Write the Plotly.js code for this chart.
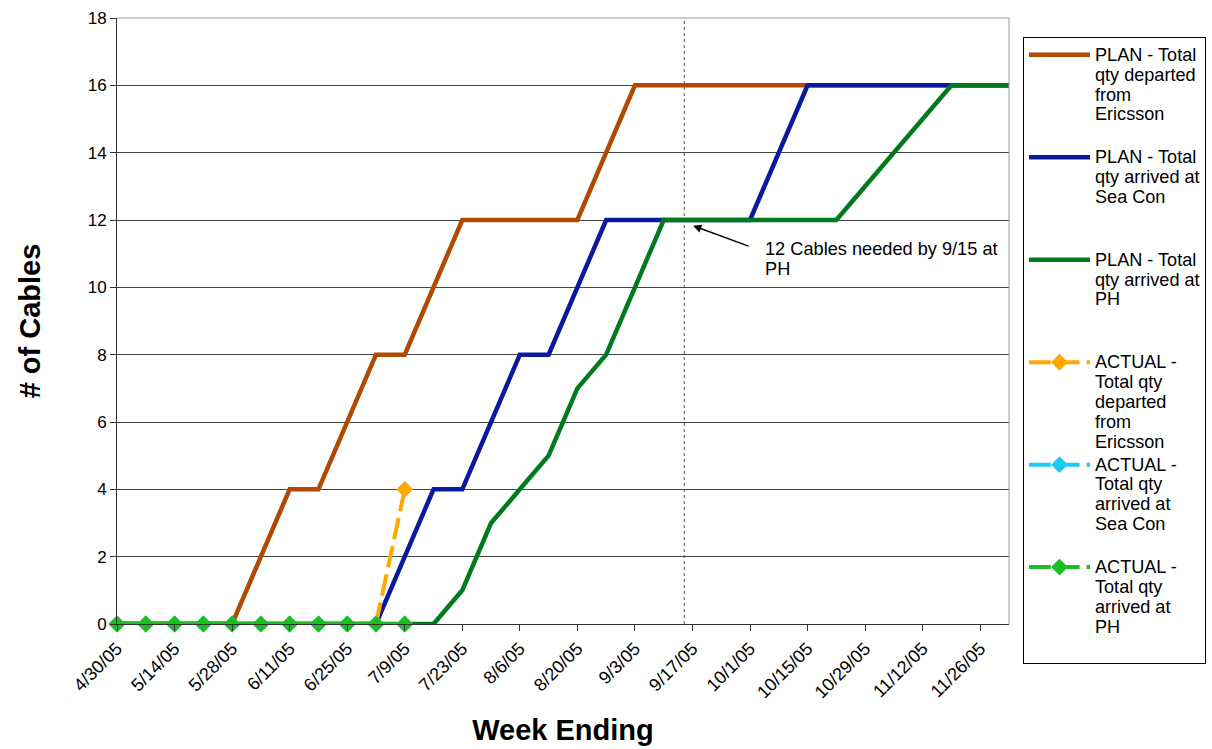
<!DOCTYPE html>
<html>
<head>
<meta charset="utf-8">
<script src="https://cdn.plot.ly/plotly-3.0.1.min.js"></script>
<style>
  html, body { margin: 0; padding: 0; background: #fff; }
  #chart { width: 1212px; height: 749px; }
</style>
</head>
<body>
<div id="chart"></div>
<script>
// ---- Data ----
const weeks = ["4/30/05","5/7/05","5/14/05","5/21/05","5/28/05","6/4/05","6/11/05","6/18/05",
               "6/25/05","7/2/05","7/9/05","7/16/05","7/23/05","7/30/05","8/6/05","8/13/05",
               "8/20/05","8/27/05","9/3/05","9/10/05","9/17/05","9/24/05","10/1/05","10/8/05",
               "10/15/05","10/22/05","10/29/05","11/5/05","11/12/05","11/19/05","11/26/05","12/3/05"];

const tickLabels = ["4/30/05","5/14/05","5/28/05","6/11/05","6/25/05","7/9/05","7/23/05","8/6/05",
                    "8/20/05","9/3/05","9/17/05","10/1/05","10/15/05","10/29/05","11/12/05","11/26/05"];

const planDeparted = [0,0,0,0,0,2,4,4,6,8,8,10,12,12,12,12,12,14,16,16,16,16,16,16,16,16,16,16,16,16,16,16];
const planSeaCon   = [0,0,0,0,0,0,0,0,0,0,2,4,4,6,8,8,10,12,12,12,12,12,12,14,16,16,16,16,16,16,16,16];
const planPH       = [0,0,0,0,0,0,0,0,0,0,0,0,1,3,4,5,7,8,10,12,12,12,12,12,12,12,13,14,15,16,16,16];

const actualDeparted = [0,0,0,0,0,0,0,0,0,0,4];
const actualSeaCon   = [0,0,0,0,0,0,0,0,0,0,0];
const actualPH       = [0,0,0,0,0,0,0,0,0,0,0];

const seriesNames = [
  ["PLAN - Total","qty departed","from","Ericsson"],
  ["PLAN - Total","qty arrived at","Sea Con"],
  ["PLAN - Total","qty arrived at","PH"],
  ["ACTUAL -","Total qty","departed","from","Ericsson"],
  ["ACTUAL -","Total qty","arrived at","Sea Con"],
  ["ACTUAL -","Total qty","arrived at","PH"]
];

const noteLines = ["12 Cables needed by 9/15 at", "PH"];
const neededDateIndex = 19 + 5/7;   // 9/15/05 between 9/10 and 9/17

// ---- Helpers ----
const FONT = "Liberation Sans, Arial, sans-serif";
const GLYPH = 18.1;
function legendName(lines, nLines) {
  const padded = lines.slice();
  while (padded.length < nLines) padded.push(" ");
  return padded.map(l => `<span style="font-size:${GLYPH}px">${l}</span>`).join("<br>");
}

const colors = {
  planDep: "#B04A00",
  planSea: "#0A1A9E",
  planPH:  "#007A1C",
  actDep:  "#FFA800",
  actSea:  "#1ACBF2",
  actPH:   "#1CBF22"
};

const actDash = "21.8px,7px";

const traces = [
  { x: weeks, y: planDeparted, name: legendName(seriesNames[0], 5), mode: "lines",
    line: { color: colors.planDep, width: 4.5 } },
  { x: weeks, y: planSeaCon, name: legendName(seriesNames[1], 5), mode: "lines",
    line: { color: colors.planSea, width: 4.5 } },
  { x: weeks, y: planPH, name: legendName(seriesNames[2], 5), mode: "lines",
    line: { color: colors.planPH, width: 4.5 } },
  { x: weeks.slice(0, actualDeparted.length), y: actualDeparted, name: legendName(seriesNames[3], 5),
    mode: "lines+markers", line: { color: colors.actDep, width: 4, dash: actDash },
    marker: { symbol: "diamond", size: 13, color: colors.actDep } },
  { x: weeks.slice(0, actualSeaCon.length), y: actualSeaCon, name: legendName(seriesNames[4], 5),
    mode: "lines+markers", line: { color: colors.actSea, width: 4, dash: actDash },
    marker: { symbol: "diamond", size: 13, color: colors.actSea } },
  { x: weeks.slice(0, actualPH.length), y: actualPH, name: legendName(seriesNames[5], 5),
    mode: "lines+markers", line: { color: colors.actPH, width: 4, dash: actDash },
    marker: { symbol: "diamond", size: 13, color: colors.actPH } }
];
traces.forEach(t => { t.type = "scatter"; t.cliponaxis = false; t.hoverinfo = "x+y"; });

const layout = {
  width: 1212, height: 749,
  paper_bgcolor: "#fff", plot_bgcolor: "#fff",
  font: { family: FONT, color: "#000", size: 17 },
  margin: { l: 117, r: 203, t: 18, b: 125, autoexpand: false },
  showlegend: true,
  legend: {
    x: 1.0157, xanchor: "left", y: 0.968, yanchor: "top",
    bgcolor: "#fff", bordercolor: "#000", borderwidth: 1,
    font: { family: FONT, size: 15.3, color: "#000" },
    valign: "top", itemwidth: 61, tracegroupgap: 0,
    traceorder: "normal", maxheight: 720
  },
  xaxis: {
    type: "category", range: [0, weeks.length - 1], automargin: false,
    tickmode: "array", tickvals: tickLabels, ticktext: tickLabels,
    tickangle: -45, ticks: "outside", ticklen: 6, tickcolor: "#333",
    showgrid: false, showline: true, linecolor: "#333", linewidth: 1,
    zeroline: false, tickfont: { family: FONT, size: 18 },
    title: { text: "Week Ending", font: { family: FONT, size: 29, weight: "bold" }, standoff: 18 }
  },
  yaxis: {
    range: [0, 18], tickmode: "array", tickvals: [0,2,4,6,8,10,12,14,16,18], automargin: false,
    ticks: "outside", ticklen: 6, tickcolor: "#333",
    showgrid: true, gridcolor: "#444", gridwidth: 1,
    showline: true, linecolor: "#333", linewidth: 1, zeroline: false,
    tickfont: { family: FONT, size: 17 },
    title: { text: "# of Cables", font: { family: FONT, size: 29, weight: "bold" }, standoff: 38 }
  },
  shapes: [
    { type: "line", xref: "paper", yref: "paper", x0: 0, x1: 1, y0: 1, y1: 1,
      line: { color: "#999", width: 1 } },
    { type: "line", xref: "paper", yref: "paper", x0: 1, x1: 1, y0: 0, y1: 1,
      line: { color: "#999", width: 1 } },
    { type: "line", xref: "x", yref: "y", x0: neededDateIndex, x1: neededDateIndex, y0: 0, y1: 18,
      line: { color: "#555", width: 1, dash: "dot" }, layer: "below" }
  ],
  annotations: [
    { xref: "x", yref: "y", x: 20.02, y: 11.83, text: "", showarrow: true,
      axref: "pixel", ayref: "pixel", ax: 57, ay: 21,
      arrowhead: 2, arrowsize: 1.1, arrowwidth: 1.5, arrowcolor: "#000" },
    { xref: "x", yref: "y", x: 22.45, y: 11.5, xanchor: "left", yanchor: "top", align: "left",
      showarrow: false, font: { family: FONT, size: 15.3, color: "#000" },
      text: noteLines.map(l => `<span style="font-size:18.2px">${l}</span>`).join("<br>") }
  ]
};

Plotly.newPlot("chart", traces, layout, { displayModeBar: false, staticPlot: true });
</script>
</body>
</html>
